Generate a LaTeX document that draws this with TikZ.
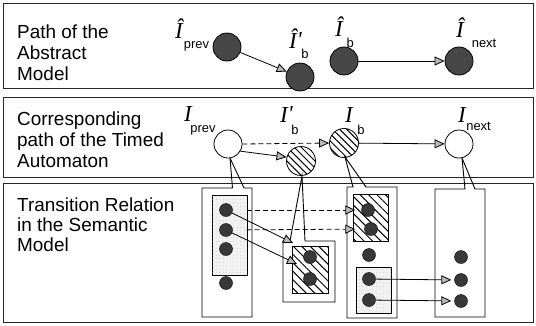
\documentclass[tikz,border=0pt]{standalone}
\usepackage{fontspec}
\setmainfont{Liberation Sans}
\newfontfamily\serifit{Liberation Serif}
\usetikzlibrary{arrows.meta,patterns.meta}
\newcommand\myprime{\rlap{\raisebox{1bp}{'}}}
\newcommand\lsub[3]{\hspace{#1}\raisebox{-#2}{\normalfont\fontsize{13}{13}\selectfont #3}}
\tikzset{
 panel/.style={draw=black!85, line width=0.9bp},
 ptxt/.style={anchor=base west, inner sep=0, font=\fontsize{19}{21}\selectfont},
 bigI/.style={anchor=base west, inner sep=0, font=\serifit\itshape\fontsize{23}{23}\selectfont},
 absst/.style={circle, draw=black, fill=black!72, minimum size=28bp, inner sep=0, line width=0.8bp},
 openst/.style={circle, draw=black, fill=white, minimum size=28bp, inner sep=0, line width=0.8bp},
 hatchst/.style={circle, draw=black, minimum size=29bp, inner sep=0, line width=0.8bp,
   pattern={Lines[angle=-45,distance=5pt,line width=1pt]}},
 semdot/.style={circle, draw=black, fill=black!78, minimum size=13bp, inner sep=0},
 arr/.style={-{Triangle[length=10bp,width=9bp,fill=gray!55]}, line width=0.8bp},
 dashdash/.style={dash pattern=on 5bp off 3bp},
 callout/.style={draw=black, line width=0.9bp},
 stipple/.style={draw=black, line width=0.8bp, fill=gray!10},
 stipdots/.style={pattern={Dots[distance=3.5pt,radius=0.35pt]}, pattern color=gray!70},
 hatchbox/.style={draw=black, line width=0.8bp, pattern={Lines[angle=-45,distance=6pt,line width=1pt]}},
}
\begin{document}
\begin{tikzpicture}[x=1bp,y=-1bp]
\useasboundingbox (0,0) rectangle (536,325);
\fill[white] (0,0) rectangle (536,325);
% panels
\draw[panel] (3,3) rectangle (533,88);
\draw[panel] (3,97) rectangle (533,177);
\draw[panel] (3,183) rectangle (533,322);
% panel texts
\node[ptxt] (t1a) at (17,38) {Path of the};
\node[ptxt] (t1b) at (17,59) {Abstract};
\node[ptxt] (t1c) at (17,80) {Model};
\node[ptxt] (t2a) at (17,125) {Corresponding};
\node[ptxt] (t2b) at (17,146) {path of the Timed};
\node[ptxt] (t2c) at (17,167) {Automaton};
\node[ptxt] (t3a) at (17,211) {Transition Relation};
\node[ptxt] (t3b) at (17,231) {in the Semantic};
\node[ptxt] (t3c) at (17,251) {Model};
% panel 1 labels
\node[bigI] (i1) at (175,38.5) {Î\lsub{1bp}{10bp}{prev}};
\node[bigI] (i2) at (289,48) {Î\myprime\lsub{4.5bp}{10.5bp}{b}};
\node[bigI] (i3) at (335,36) {Î\lsub{3.8bp}{11.5bp}{b}};
\node[bigI] (i4) at (456,37) {Î\lsub{8bp}{10.5bp}{next}};
% panel 1 states
\node[absst] (a1prev) at (227,47) {};
\node[absst] (a1bp) at (300,77) {};
\node[absst] (a1b) at (344,61) {};
\node[absst] (a1n) at (459,61) {};
\draw[arr] (a1prev) -- (a1bp);
\draw[arr] (a1b) -- (a1n);
% panel 2 labels
\node[bigI] (j1) at (184,121) {I\lsub{-1.5bp}{11bp}{prev}};
\node[bigI] (j2) at (280,122) {I\myprime\lsub{3.5bp}{12.5bp}{b}};
\node[bigI] (j3) at (345,122) {I\lsub{4.5bp}{12.5bp}{b}};
\node[bigI] (j4) at (458,122) {I\lsub{0.5bp}{8.5bp}{next}};
% callouts
\draw[callout] (202,188) -- (232.5,188) -- (230,158) -- (244,188) -- (252,188) -- (252,317) -- (202,317) -- cycle;
\draw[callout] (283,241) -- (290,241) -- (302,176) -- (305,241) -- (335,241) -- (335,302) -- (283,302) -- cycle;
\draw[callout] (347,187) -- (353,187) -- (345,157) -- (366,187) -- (397,187) -- (397,318) -- (347,318) -- cycle;
\draw[callout] (435,189) -- (465,189) -- (462,158) -- (475,189) -- (485,189) -- (485,317) -- (435,317) -- cycle;
% panel 2 states
\node[openst] (t2prev) at (228,144) {};
\node[hatchst] (t2bp) at (301,161) {};
\node[hatchst] (t2b) at (344,143) {};
\node[openst] (t2n) at (459,144) {};
\draw[arr] (t2prev.-30) -- (t2bp.165);
\draw[arr, dashdash] (t2prev.east) -- (t2b.west);
\draw[arr] (t2b) -- (t2n);
% inner boxes
\draw[stipple] (212,195) rectangle (247,275);
\fill[stipdots] (212,195) rectangle (247,275);
\draw[hatchbox] (292,246) rectangle (328,293);
\draw[hatchbox] (353,194) rectangle (388,241);
\draw[stipple] (356,267) rectangle (391,313);
\fill[stipdots] (356,267) rectangle (391,313);
% semantic states
\node[semdot] (c1a) at (226,210) {};
\node[semdot] (c1b) at (226,230) {};
\node[semdot] (c1c) at (226,249) {};
\node[semdot] (c1d) at (226,283) {};
\node[semdot] (c2a) at (310,257) {};
\node[semdot] (c2b) at (310,279) {};
\node[semdot] (c3a) at (368,210) {};
\node[semdot] (c3b) at (371,229) {};
\node[semdot] (c3c) at (369,255) {};
\node[semdot] (c3d) at (369,279) {};
\node[semdot] (c3e) at (369,300) {};
\node[semdot] (c4a) at (461,257) {};
\node[semdot] (c4b) at (461,280) {};
\node[semdot] (c4c) at (461,301) {};
\coordinate (p1) at (293,243);
\coordinate (p2) at (297,264);
\draw[arr, dashdash, shorten <=14bp, shorten >=6bp] (c1a) -- (c3a);
\draw[arr, dashdash, shorten <=14bp, shorten >=9bp] (c1b) -- (c3b);
\draw[arr] (c1a) -- (p1);
\draw[arr] (c1b) -- (p2);
\draw[arr, shorten >=3bp] (c3d) -- (c4b);
\draw[arr, shorten >=3bp] (c3e) -- (c4c);
\end{tikzpicture}
\end{document}
